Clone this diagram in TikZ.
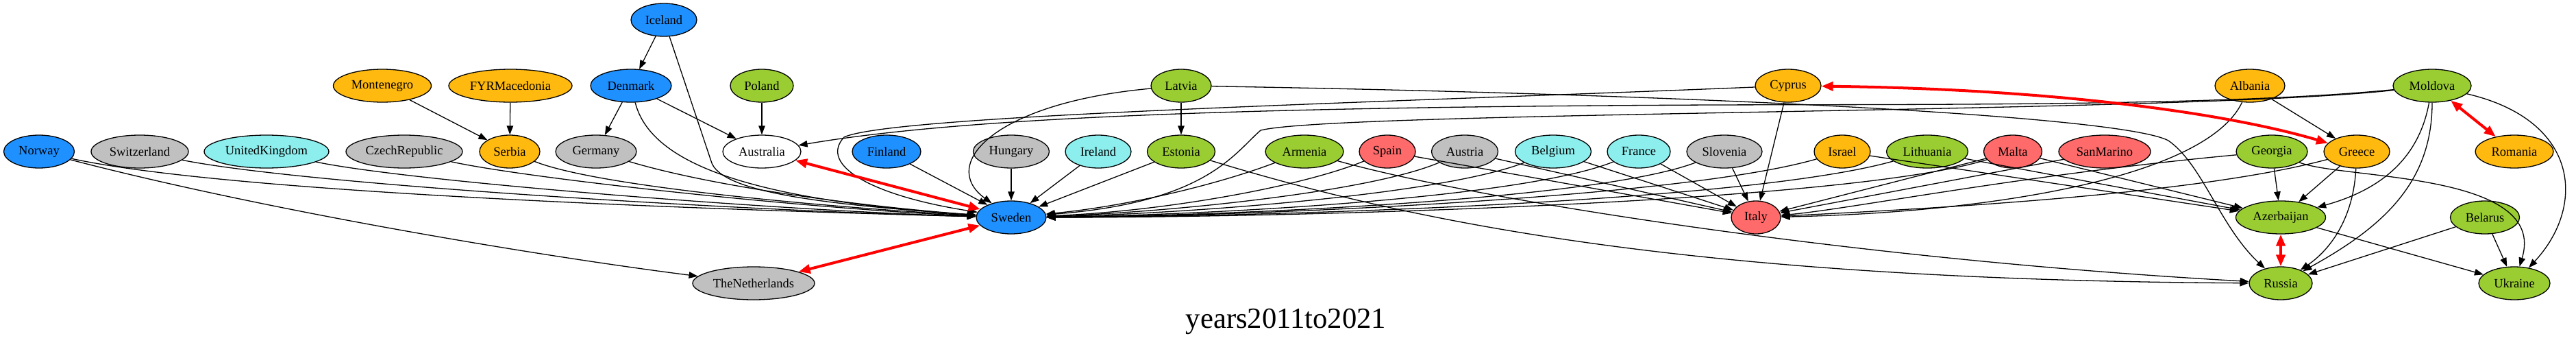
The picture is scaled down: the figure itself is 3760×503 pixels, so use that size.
\documentclass[tikz,border=0pt]{standalone}
\usepackage{fontspec}
\setmainfont{Liberation Serif}
\usetikzlibrary{shapes.geometric,arrows.meta}
\definecolor{cblue}{HTML}{1E90FF}
\definecolor{cgray}{HTML}{C0C0C0}
\definecolor{ccyan}{HTML}{8DEEEE}
\definecolor{corange}{HTML}{FFB90F}
\definecolor{cgreen}{HTML}{9ACD32}
\definecolor{cred}{HTML}{FF6A6A}
\begin{document}
\begin{tikzpicture}[x=1pt,y=-1pt,
  cty/.style={ellipse,draw=black,line width=1.3pt,minimum height=48pt,inner sep=0pt,font=\fontsize{18.5}{20}\selectfont},
  edg/.style={draw=black,line width=1.3pt,-{Triangle[length=13pt,width=9.5pt]}},
  redg/.style={draw=red,line width=4pt,{Triangle[length=17pt,width=13pt]}-{Triangle[length=17pt,width=13pt]}},
]
\path[use as bounding box,fill=white] (0,0) rectangle (3760,503);
% row 1
\node[cty,fill=cblue,minimum width=96pt] (Iceland) at (969,29) {Iceland};
% row 2
\node[cty,fill=corange,minimum width=143pt] (Montenegro) at (558,125) {Montenegro};
\node[cty,fill=corange,minimum width=180pt] (FYRMacedonia) at (745,125) {FYRMacedonia};
\node[cty,fill=cblue,minimum width=118pt] (Denmark) at (921,125) {Denmark};
\node[cty,fill=cgreen,minimum width=92pt] (Poland) at (1112,125) {Poland};
\node[cty,fill=cgreen,minimum width=88pt] (Latvia) at (1724,125) {Latvia};
\node[cty,fill=corange,minimum width=96pt] (Cyprus) at (2610,125) {Cyprus};
\node[cty,fill=corange,minimum width=102pt] (Albania) at (3284,125) {Albania};
\node[cty,fill=cgreen,minimum width=114pt] (Moldova) at (3550,125) {Moldova};
% row 3
\node[cty,fill=cblue,minimum width=103pt] (Norway) at (57,221) {Norway};
\node[cty,fill=cgray,minimum width=142pt] (Switzerland) at (204,221) {Switzerland};
\node[cty,fill=ccyan,minimum width=182pt] (UnitedKingdom) at (389,221) {UnitedKingdom};
\node[cty,fill=cgray,minimum width=170pt] (CzechRepublic) at (590,221) {CzechRepublic};
\node[cty,fill=corange,minimum width=88pt] (Serbia) at (744,221) {Serbia};
\node[cty,fill=cgray,minimum width=118pt] (Germany) at (870,221) {Germany};
\node[cty,fill=white,minimum width=114pt] (Australia) at (1112,221) {Australia};
\node[cty,fill=cblue,minimum width=100pt] (Finland) at (1294,221) {Finland};
\node[cty,fill=cgray,minimum width=111pt] (Hungary) at (1476,221) {Hungary};
\node[cty,fill=ccyan,minimum width=96pt] (Ireland) at (1603,221) {Ireland};
\node[cty,fill=cgreen,minimum width=99pt] (Estonia) at (1724,221) {Estonia};
\node[cty,fill=cgreen,minimum width=114pt] (Armenia) at (1904,221) {Armenia};
\node[cty,fill=cred,minimum width=82pt] (Spain) at (2025,221) {Spain};
\node[cty,fill=cgray,minimum width=97pt] (Austria) at (2138,221) {Austria};
\node[cty,fill=ccyan,minimum width=111pt] (Belgium) at (2267,221) {Belgium};
\node[cty,fill=ccyan,minimum width=92pt] (France) at (2392,221) {France};
\node[cty,fill=cgray,minimum width=110pt] (Slovenia) at (2517,221) {Slovenia};
\node[cty,fill=corange,minimum width=82pt] (Israel) at (2689,221) {Israel};
\node[cty,fill=cgreen,minimum width=119pt] (Lithuania) at (2813,221) {Lithuania};
\node[cty,fill=cred,minimum width=85pt] (Malta) at (2938,221) {Malta};
\node[cty,fill=cred,minimum width=134pt] (SanMarino) at (3072,221) {SanMarino};
\node[cty,fill=cgreen,minimum width=104pt] (Georgia) at (3316,221) {Georgia};
\node[cty,fill=corange,minimum width=96pt] (Greece) at (3440,221) {Greece};
\node[cty,fill=corange,minimum width=114pt] (Romania) at (3670,221) {Romania};
% row 4
\node[cty,fill=cblue,minimum width=102pt] (Sweden) at (1476,317) {Sweden};
\node[cty,fill=cred,minimum width=72pt] (Italy) at (2563,317) {Italy};
\node[cty,fill=cgreen,minimum width=131pt] (Azerbaijan) at (3329,317) {Azerbaijan};
\node[cty,fill=cgreen,minimum width=101pt] (Belarus) at (3627,317) {Belarus};
% row 5
\node[cty,fill=cgray,minimum width=178pt] (TheNetherlands) at (1100,413) {TheNetherlands};
\node[cty,fill=cgreen,minimum width=92pt] (Russia) at (3329,413) {Russia};
\node[cty,fill=cgreen,minimum width=104pt] (Ukraine) at (3670,413) {Ukraine};
% title
\node[font=\fontsize{42.7}{48}\selectfont,anchor=base,inner sep=0pt] (title) at (1877,478) {years2011to2021};

% ---- edges, left part
\draw[edg] (Montenegro) -- (Serbia);
\draw[edg] (FYRMacedonia) -- (Serbia);
\draw[edg] (Iceland) -- (Denmark);
\draw[edg] (Denmark) -- (Germany);
\draw[edg] (Denmark) -- (Australia);
\draw[edg] (Poland) -- (Australia);
\draw[edg] (Latvia) -- (Estonia);
\draw[edg] (Iceland) -- (1038,235) .. controls (1050,280) and (1200,298) .. (Sweden);
\draw[edg] (Denmark) .. controls (950,240) and (1100,292) .. (Sweden);
\draw[edg] (Norway) .. controls (330,280) and (1000,305) .. (Sweden);
\draw[edg] (Norway) .. controls (400,310) and (800,375) .. (TheNetherlands);
\draw[edg] (Switzerland) .. controls (450,270) and (1100,308) .. (Sweden);
\draw[edg] (UnitedKingdom) .. controls (600,265) and (1150,308) .. (Sweden);
\draw[edg] (CzechRepublic) .. controls (780,262) and (1200,306) .. (Sweden);
\draw[edg] (Serbia) .. controls (880,275) and (1250,305) .. (Sweden);
\draw[edg] (Germany) .. controls (1050,275) and (1280,303) .. (Sweden);
\draw[edg] (Finland) -- (Sweden);
\draw[edg] (Hungary) -- (Sweden);
\draw[edg] (Ireland) -- (Sweden);
\draw[edg] (Estonia) -- (Sweden);
\draw[edg] (Latvia) .. controls (1450,150) and (1370,240) .. (Sweden);
% ---- to Sweden from the right
\draw[edg] (Armenia) .. controls (1780,268) and (1650,300) .. (Sweden);
\draw[edg] (Spain) .. controls (1900,272) and (1700,308) .. (Sweden);
\draw[edg] (Austria) .. controls (2000,280) and (1700,310) .. (Sweden);
\draw[edg] (Belgium) .. controls (2100,285) and (1720,312) .. (Sweden);
\draw[edg] (France) .. controls (2220,290) and (1750,314) .. (Sweden);
\draw[edg] (Slovenia) .. controls (2330,292) and (1780,315) .. (Sweden);
\draw[edg] (Israel) .. controls (2450,290) and (1800,316) .. (Sweden);
\draw[edg] (Lithuania) .. controls (2550,295) and (1850,316) .. (Sweden);
\draw[edg] (Malta) .. controls (2700,295) and (1900,317) .. (Sweden);
\draw[edg] (Cyprus) .. controls (2000,150) and (1300,168) .. (1232,200) .. controls (1195,240) and (1270,285) .. (Sweden);
\draw[edg] (Moldova) .. controls (3250,155) and (2800,152) .. (2500,153) .. controls (1800,156) and (1400,172) .. (Australia);
\draw[edg] (Moldova) .. controls (3200,165) and (1950,162) .. (1840,190) .. controls (1800,225) and (1760,295) .. (Sweden);
% ---- Italy
\draw[edg] (Spain) -- (Italy);
\draw[edg] (Austria) -- (Italy);
\draw[edg] (Belgium) -- (Italy);
\draw[edg] (France) -- (Italy);
\draw[edg] (Slovenia) -- (Italy);
\draw[edg] (Cyprus) -- (Italy);
\draw[edg] (Malta) -- (Italy);
\draw[edg] (SanMarino) -- (Italy);
\draw[edg] (Georgia) .. controls (2950,255) and (2700,305) .. (Italy);
\draw[edg] (Greece) .. controls (3200,285) and (2800,305) .. (Italy);
\draw[edg] (Albania) .. controls (3220,260) and (2900,310) .. (Italy);
% ---- Azerbaijan
\draw[edg] (Israel) -- (Azerbaijan);
\draw[edg] (Lithuania) -- (Azerbaijan);
\draw[edg] (Malta) -- (Azerbaijan);
\draw[edg] (Georgia) -- (Azerbaijan);
\draw[edg] (Greece) -- (Azerbaijan);
\draw[edg] (Moldova) .. controls (3530,235) and (3470,278) .. (Azerbaijan);
\draw[edg] (Azerbaijan) -- (Ukraine);
% ---- Russia
\draw[edg] (Latvia) .. controls (2500,138) and (3100,170) .. (3165,205) .. controls (3215,240) and (3240,330) .. (Russia);
\draw[edg] (Estonia) .. controls (2050,320) and (2450,408) .. (Russia);
\draw[edg] (Armenia) .. controls (2150,290) and (2700,378) .. (Russia);
\draw[edg] (Greece) .. controls (3435,320) and (3400,365) .. (Russia);
\draw[edg] (Moldova) .. controls (3550,265) and (3480,330) .. (Russia);
\draw[edg] (Belarus) -- (Russia);
% ---- Ukraine
\draw[edg] (Belarus) -- (Ukraine);
\draw[edg] (Georgia) .. controls (3420,262) and (3720,250) .. (Ukraine);
\draw[edg] (Moldova) .. controls (3765,175) and (3775,300) .. (Ukraine);
% ---- others
\draw[edg] (Albania) -- (Greece);
% ---- red two-way edges
\draw[redg] (Cyprus) .. controls (3000,130) and (3250,165) .. (Greece);
\draw[redg] (Moldova) -- (Romania);
\draw[redg] (Azerbaijan) -- (Russia);
\draw[redg] (Sweden) -- (Australia);
\draw[redg] (Sweden) -- (TheNetherlands);
\end{tikzpicture}
\end{document}
